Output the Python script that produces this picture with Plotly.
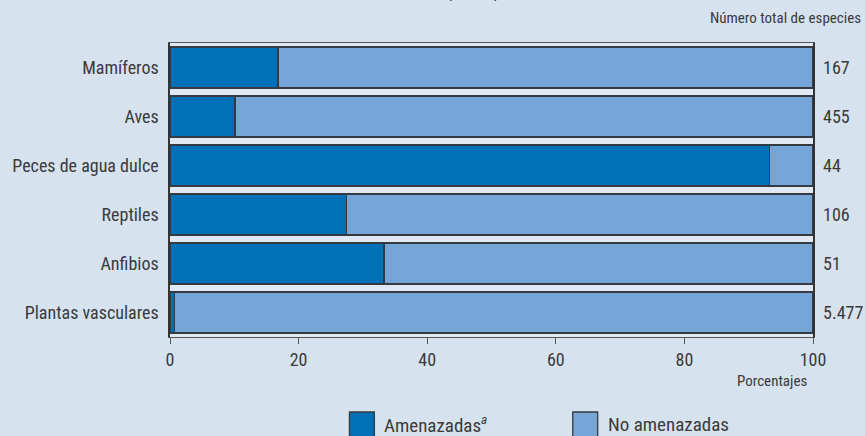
import plotly.graph_objects as go

categories = ["Mamíferos", "Aves", "Peces de agua dulce", "Reptiles", "Anfibios", "Plantas vasculares"]
amenazadas = [16.8, 10.1, 93.2, 27.4, 33.3, 0.73]
no_amenazadas = [100 - v for v in amenazadas]
total_especies = ["167", "455", "44", "106", "51", "5.477"]
x_ticks = [0, 20, 40, 60, 80, 100]

DARK = "#0070b8"
LIGHT = "#76a5d8"
BG = "#d7e2ef"
PLOT_BG = "#dfe8f3"
EDGE = "#353a40"
TXT = "#3a3a3a"
FONT = "Liberation Sans Narrow, Arial Narrow, Roboto Condensed, Liberation Sans, sans-serif"

fig = go.Figure()
fig.add_trace(go.Bar(y=categories, x=amenazadas, orientation="h", name="Amenazadas",
                     marker=dict(color=DARK, line=dict(color=EDGE, width=1.3)),
                     hoverinfo="skip"))
fig.add_trace(go.Bar(y=categories, x=no_amenazadas, orientation="h", name="No amenazadas",
                     marker=dict(color=LIGHT, line=dict(color=EDGE, width=1.3)),
                     hoverinfo="skip"))

W, H = 865, 436
L, R, T, B = 168, 52, 43, 99
pw = W - L - R
ph = H - T - B

def px_x(px):
    return (px - L) / pw

def px_y(py):
    return (H - B - py) / ph

annotations = []
for cat, tot in zip(categories, total_especies):
    annotations.append(dict(x=px_x(821), xref="paper", y=cat, yref="y", text=tot,
                            showarrow=False, xanchor="left", yanchor="middle",
                            font=dict(family=FONT, size=18, color=TXT)))

annotations.append(dict(x=px_x(863), xref="paper", y=px_y(18), yref="paper",
                        text="Número total de especies", showarrow=False,
                        xanchor="right", yanchor="middle",
                        font=dict(family=FONT, size=15, color=TXT)))
annotations.append(dict(x=px_x(809), xref="paper", y=px_y(381), yref="paper",
                        text="Porcentajes", showarrow=False,
                        xanchor="right", yanchor="middle",
                        font=dict(family=FONT, size=15, color=TXT)))
# partially visible title at top edge
annotations.append(dict(x=px_x(441), xref="paper", y=px_y(3), yref="paper",
                        text="Estado de conservación,", showarrow=False,
                        xanchor="right", yanchor="bottom",
                        font=dict(family="Liberation Sans, Arial, sans-serif", size=16, color=TXT)))
annotations.append(dict(x=px_x(446), xref="paper", y=px_y(3), yref="paper",
                        text="por especie", showarrow=False,
                        xanchor="left", yanchor="bottom",
                        font=dict(family="Liberation Sans, Arial, sans-serif", size=16, color=TXT)))

# legend
annotations.append(dict(x=px_x(381), xref="paper", y=px_y(425), yref="paper",
                        text="Amenazadas<sup><i>a</i></sup>", showarrow=False,
                        xanchor="left", yanchor="middle",
                        font=dict(family=FONT, size=19, color=TXT)))
annotations.append(dict(x=px_x(605), xref="paper", y=px_y(425), yref="paper",
                        text="No amenazadas", showarrow=False,
                        xanchor="left", yanchor="middle",
                        font=dict(family=FONT, size=19, color=TXT)))

shapes = [
    dict(type="rect", xref="paper", yref="paper", x0=px_x(348), x1=px_x(373),
         y0=px_y(412), y1=px_y(437), fillcolor=DARK, line=dict(color=EDGE, width=1.3)),
    dict(type="rect", xref="paper", yref="paper", x0=px_x(572), x1=px_x(597),
         y0=px_y(412), y1=px_y(437), fillcolor=LIGHT, line=dict(color=EDGE, width=1.3)),
]

fig.update_layout(
    width=W, height=H,
    margin=dict(l=L, r=R, t=T, b=B, pad=0),
    barmode="stack",
    bargap=0.16,
    showlegend=False,
    paper_bgcolor=BG,
    plot_bgcolor=PLOT_BG,
    annotations=annotations,
    shapes=shapes,
    xaxis=dict(range=[0, 100], tickvals=x_ticks, showgrid=False, zeroline=False,
               showline=True, linecolor="#555", linewidth=1.2, mirror=True,
               ticks="outside", ticklen=6, tickcolor="#555", tickwidth=1.2,
               tickfont=dict(family=FONT, size=18, color=TXT), fixedrange=True),
    yaxis=dict(autorange="reversed", showgrid=False, zeroline=False,
               showline=True, linecolor="#333", linewidth=1.5, mirror=True,
               ticks="", ticklabelstandoff=6,
               tickfont=dict(family=FONT, size=18, color=TXT), fixedrange=True),
)

fig.write_html("out.html", config={"displayModeBar": False},
               post_script="document.body.style.margin='0';document.body.style.overflow='hidden';")
